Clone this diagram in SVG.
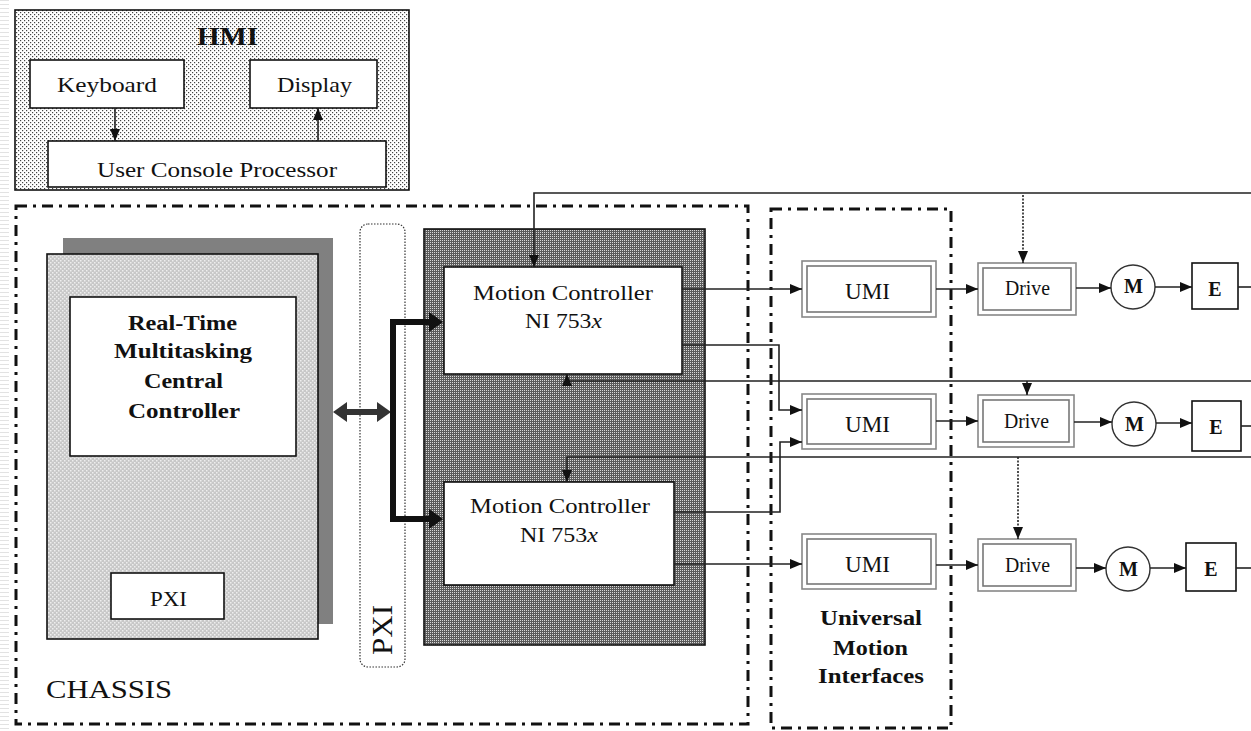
<svg xmlns="http://www.w3.org/2000/svg" width="1251" height="731" viewBox="0 0 1251 731">
<style>
text{font-family:"Liberation Serif","Times New Roman",serif;fill:#111;}
.box{fill:#fff;stroke:#111;stroke-width:1.6;}
.dd{fill:none;stroke:#111;stroke-width:3;stroke-dasharray:11 6 3 6;}
.ln{fill:none;stroke:#222;stroke-width:1.6;}
.dot{fill:none;stroke:#222;stroke-width:1.6;stroke-dasharray:2 1.5;}
.dbl{fill:#fff;stroke:#888;stroke-width:1.6;}
.b{font-weight:bold;}
</style>
<defs>
<pattern id="pDots" width="4" height="4" patternUnits="userSpaceOnUse">
<rect width="4" height="4" fill="#fff"/>
<rect x="0" y="0" width="1.2" height="1.2" fill="#444"/>
<rect x="2" y="2" width="1.2" height="1.2" fill="#444"/>
</pattern>
<pattern id="pHatch" width="4" height="4" patternUnits="userSpaceOnUse">
<rect width="4" height="4" fill="#c8c8c8"/>
<rect x="0" y="0" width="1.5" height="1.5" fill="#eeeeee"/>
<rect x="2" y="2" width="1.5" height="1.5" fill="#eeeeee"/>
</pattern>
<pattern id="pDark" width="2" height="2" patternUnits="userSpaceOnUse">
<rect width="2" height="2" fill="#5a5a5a"/>
<rect x="0" y="0" width="1" height="1" fill="#d8d8d8"/>
</pattern>
<pattern id="pStripe" width="9" height="4" patternUnits="userSpaceOnUse">
<rect width="9" height="4" fill="#fff"/>
<rect x="0" y="0" width="9" height="1" fill="#e2e2e2"/>
</pattern>
<marker id="ar" markerWidth="12" markerHeight="10" refX="12" refY="5" orient="auto" markerUnits="userSpaceOnUse">
<path d="M0,0 L12,5 L0,10 Z" fill="#111"/>
</marker>
</defs>
<rect width="1251" height="731" fill="#fff"/>
<rect x="0" y="0" width="9" height="731" fill="url(#pStripe)"/>

<!-- HMI -->
<g id="hmi">
<rect x="15" y="10" width="394" height="180" fill="url(#pDots)" stroke="#111" stroke-width="1.6"/>
<text x="197" y="45" font-size="26" class="b" textLength="61" lengthAdjust="spacingAndGlyphs">HMI</text>
</g>
<g id="keyboard"><rect class="box" x="30" y="60" width="154" height="48"/><text x="57" y="92" font-size="21" textLength="100" lengthAdjust="spacingAndGlyphs">Keyboard</text></g>
<g id="display"><rect class="box" x="250" y="60" width="127" height="48"/><text x="277" y="92" font-size="21" textLength="75" lengthAdjust="spacingAndGlyphs">Display</text></g>
<g id="ucp"><rect class="box" x="48" y="141" width="338" height="46"/><text x="97" y="177" font-size="21" textLength="240" lengthAdjust="spacingAndGlyphs">User Console Processor</text></g>

<!-- Chassis -->
<g id="chassis">
<path class="dd" d="M16,206 H748 V724 H16 Z"/>
<text x="46" y="698" font-size="26" textLength="126" lengthAdjust="spacingAndGlyphs">CHASSIS</text>
</g>
<g id="umi-group">
<path class="dd" d="M771,209 H951 V728 H771 Z"/>
<text x="820" y="625" font-size="20" class="b" textLength="102" lengthAdjust="spacingAndGlyphs">Universal</text>
<text x="833" y="655" font-size="20" class="b" textLength="75" lengthAdjust="spacingAndGlyphs">Motion</text>
<text x="818" y="683" font-size="20" class="b" textLength="106" lengthAdjust="spacingAndGlyphs">Interfaces</text>
</g>

<!-- Central controller -->
<g id="central">
<rect x="63" y="238" width="270" height="386" fill="#808080"/>
<rect x="47" y="254" width="271" height="385" fill="url(#pHatch)" stroke="#111" stroke-width="1.6"/>
<rect class="box" x="70" y="297" width="226" height="159"/>
<text x="128" y="330" font-size="21" class="b" textLength="109" lengthAdjust="spacingAndGlyphs">Real-Time</text>
<text x="114" y="358" font-size="21" class="b" textLength="138" lengthAdjust="spacingAndGlyphs">Multitasking</text>
<text x="144" y="388" font-size="21" class="b" textLength="79" lengthAdjust="spacingAndGlyphs">Central</text>
<text x="128" y="418" font-size="21" class="b" textLength="112" lengthAdjust="spacingAndGlyphs">Controller</text>
</g>
<g id="pxi-card"><rect class="box" x="111" y="573" width="113" height="46"/><text x="150" y="606" font-size="22" textLength="37" lengthAdjust="spacingAndGlyphs">PXI</text></g>

<!-- PXI bus -->
<g id="pxi-bus">
<rect x="360" y="224" width="45" height="443" rx="8" fill="none" stroke="#333" stroke-width="1.2" stroke-dasharray="1.5 1.5"/>
<text transform="translate(392,655) rotate(-90)" font-size="29" textLength="50" lengthAdjust="spacingAndGlyphs">PXI</text>
</g>

<!-- Motion controllers -->
<g id="mc-bg"><rect x="424" y="229" width="281" height="416" fill="url(#pDark)" stroke="#111" stroke-width="1.6"/></g>
<g id="mc1"><rect class="box" x="444" y="267" width="238" height="107"/>
<text x="473" y="300" font-size="21" textLength="180" lengthAdjust="spacingAndGlyphs">Motion Controller</text>
<text x="525" y="328" font-size="21" textLength="77" lengthAdjust="spacingAndGlyphs">NI 753<tspan font-style="italic">x</tspan></text></g>
<g id="mc2"><rect class="box" x="444" y="482" width="230" height="103"/>
<text x="470" y="513" font-size="21" textLength="180" lengthAdjust="spacingAndGlyphs">Motion Controller</text>
<text x="520" y="542" font-size="21" textLength="78" lengthAdjust="spacingAndGlyphs">NI 753<tspan font-style="italic">x</tspan></text></g>

<!-- UMI / Drive / M / E -->
<g id="umi1"><rect class="dbl" x="802" y="261" width="134" height="56"/><rect x="807" y="266" width="124" height="46" fill="none" stroke="#777" stroke-width="1.6"/><text x="845" y="299" font-size="23" textLength="45" lengthAdjust="spacingAndGlyphs">UMI</text></g>
<g id="umi2"><rect class="dbl" x="802" y="394" width="134" height="55"/><rect x="807" y="399" width="124" height="45" fill="none" stroke="#777" stroke-width="1.6"/><text x="845" y="432" font-size="23" textLength="45" lengthAdjust="spacingAndGlyphs">UMI</text></g>
<g id="umi3"><rect class="dbl" x="802" y="534" width="134" height="55"/><rect x="807" y="539" width="124" height="45" fill="none" stroke="#777" stroke-width="1.6"/><text x="845" y="572" font-size="23" textLength="45" lengthAdjust="spacingAndGlyphs">UMI</text></g>

<g id="drive1"><rect class="dbl" x="978" y="263" width="98" height="52"/><rect x="983" y="268" width="88" height="42" fill="none" stroke="#777" stroke-width="1.6"/><text x="1005" y="295" font-size="20" textLength="45" lengthAdjust="spacingAndGlyphs">Drive</text></g>
<g id="drive2"><rect class="dbl" x="978" y="395" width="96" height="52"/><rect x="983" y="400" width="86" height="42" fill="none" stroke="#777" stroke-width="1.6"/><text x="1004" y="428" font-size="20" textLength="45" lengthAdjust="spacingAndGlyphs">Drive</text></g>
<g id="drive3"><rect class="dbl" x="978" y="539" width="98" height="52"/><rect x="983" y="544" width="88" height="42" fill="none" stroke="#777" stroke-width="1.6"/><text x="1005" y="572" font-size="20" textLength="45" lengthAdjust="spacingAndGlyphs">Drive</text></g>

<g id="m1"><circle cx="1133" cy="287" r="22" fill="#fff" stroke="#333" stroke-width="1.4"/><text x="1124" y="293" font-size="20" class="b" textLength="19" lengthAdjust="spacingAndGlyphs">M</text></g>
<g id="m2"><circle cx="1134" cy="424" r="22" fill="#fff" stroke="#333" stroke-width="1.4"/><text x="1125" y="431" font-size="20" class="b" textLength="19" lengthAdjust="spacingAndGlyphs">M</text></g>
<g id="m3"><circle cx="1128" cy="569" r="22" fill="#fff" stroke="#333" stroke-width="1.4"/><text x="1119" y="576" font-size="20" class="b" textLength="19" lengthAdjust="spacingAndGlyphs">M</text></g>

<g id="e1"><rect class="box" x="1192" y="263" width="46" height="46"/><text x="1215" y="296" font-size="20" class="b" text-anchor="middle">E</text></g>
<g id="e2"><rect class="box" x="1192" y="401" width="49" height="50"/><text x="1216" y="434" font-size="20" class="b" text-anchor="middle">E</text></g>
<g id="e3"><rect class="box" x="1186" y="543" width="50" height="48"/><text x="1211" y="576" font-size="20" class="b" text-anchor="middle">E</text></g>

<!-- Connectors -->
<g id="connectors">
<line class="ln" x1="115" y1="108" x2="115" y2="141" marker-end="url(#ar)"/>
<line class="ln" x1="318" y1="141" x2="318" y2="108" marker-end="url(#ar)"/>

<line x1="345" y1="412" x2="380" y2="412" stroke="#333" stroke-width="6"/>
<path d="M333,412 L347,402 L347,422 Z" fill="#333"/>
<path d="M391,412 L377,402 L377,422 Z" fill="#333"/>
<path d="M430,322 H393 V519 H430" fill="none" stroke="#111" stroke-width="6"/>
<path d="M443,322 L429,312 L429,332 Z" fill="#111"/>
<path d="M443,519 L429,509 L429,529 Z" fill="#111"/>

<path class="ln" d="M1251,193 H534 V267" marker-end="url(#ar)"/>
<line class="dot" x1="1023" y1="195" x2="1023" y2="263" marker-end="url(#ar)"/>

<line class="ln" x1="682" y1="289" x2="802" y2="289" marker-end="url(#ar)"/>
<path class="ln" d="M682,345 H779 V410 H802" marker-end="url(#ar)"/>
<path class="ln" d="M1251,381 H567 V374" marker-end="url(#ar)"/>
<line class="ln" x1="1027" y1="381" x2="1027" y2="395" marker-end="url(#ar)"/>
<path class="ln" d="M1251,457 H567 V482" marker-end="url(#ar)"/>
<line class="dot" x1="1018" y1="457" x2="1018" y2="539" marker-end="url(#ar)"/>

<path class="ln" d="M674,512 H780 V442 H802" marker-end="url(#ar)"/>
<line class="ln" x1="674" y1="564" x2="802" y2="564" marker-end="url(#ar)"/>

<line class="ln" x1="936" y1="289" x2="978" y2="289" marker-end="url(#ar)"/>
<line class="ln" x1="1076" y1="288" x2="1111" y2="288" marker-end="url(#ar)"/>
<line class="ln" x1="1155" y1="287" x2="1192" y2="287" marker-end="url(#ar)"/>
<line class="ln" x1="1238" y1="287" x2="1251" y2="287"/>
<line class="ln" x1="936" y1="421" x2="978" y2="421" marker-end="url(#ar)"/>
<line class="ln" x1="1074" y1="422" x2="1112" y2="422" marker-end="url(#ar)"/>
<line class="ln" x1="1156" y1="423" x2="1192" y2="423" marker-end="url(#ar)"/>
<line class="ln" x1="1241" y1="426" x2="1251" y2="426"/>
<line class="ln" x1="936" y1="565" x2="978" y2="565" marker-end="url(#ar)"/>
<line class="ln" x1="1076" y1="568" x2="1106" y2="568" marker-end="url(#ar)"/>
<line class="ln" x1="1150" y1="568" x2="1186" y2="568" marker-end="url(#ar)"/>
<line class="ln" x1="1236" y1="568" x2="1251" y2="568"/>
</g>
</svg>
